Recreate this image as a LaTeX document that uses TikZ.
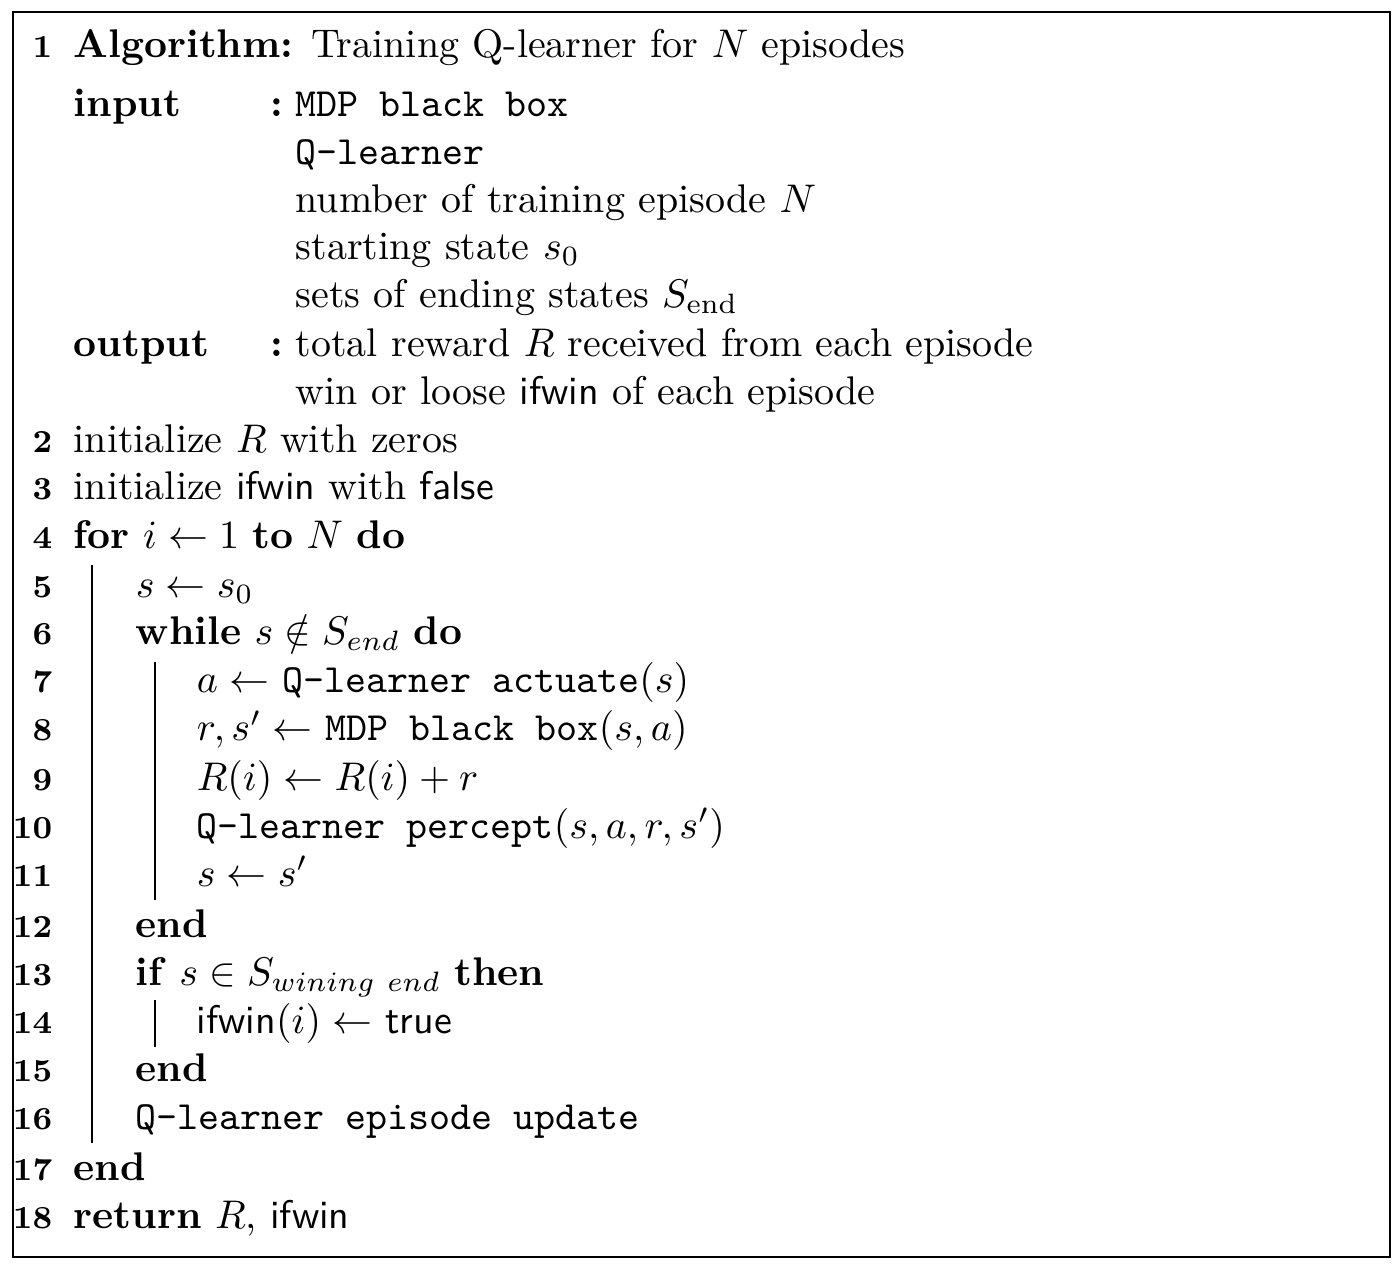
\documentclass[tikz,border=0pt]{standalone}
\usepackage{amsmath,amssymb}
\begin{document}
\begin{tikzpicture}[x=0.25pt,y=-0.25pt,
  ln/.style={anchor=base east,font=\footnotesize\bfseries,inner sep=0pt},
  tx/.style={anchor=base west,inner sep=0pt},
  bar/.style={line width=0.3pt}]
\useasboundingbox (0,0) rectangle (1400,1270);
\draw[line width=0.4pt] (13,12) rectangle (1390,1257);
\def\ttq{\texttt{Q-learner}}
% line numbers
\foreach \n/\y in {1/58,2/453,3/500,4/549,5/598,6/645,7/693,8/741,9/790,10/838,11/886,12/937,13/985,14/1033,15/1081,16/1129,17/1180,18/1228}
  \node[ln] (n\n) at (53,\y) {\n};
\node[tx] (l1) at (73,58) {\textbf{Algorithm:} Training Q-learner for $N$ episodes};
\node[tx] (inp) at (73,117) {\textbf{input}};
\node[tx] (c1) at (270,117) {\textbf{:}};
\node[tx] (i1) at (295,117) {\texttt{MDP black box}};
\node[tx] (i2) at (295,165) {\ttq};
\node[tx] (i3) at (295,213) {number of training episode $N$};
\node[tx] (i4) at (295,260) {starting state $s_0$};
\node[tx] (i5) at (295,308) {sets of ending states $S_{\text{end}}$};
\node[tx] (out) at (73,357) {\textbf{output}};
\node[tx] (c2) at (270,357) {\textbf{:}};
\node[tx] (o1) at (295,357) {total reward $R$ received from each episode};
\node[tx] (o2) at (295,405) {win or loose \textsf{ifwin} of each episode};
\node[tx] (l2) at (73,453) {initialize $R$ with zeros};
\node[tx] (l3) at (73,500) {initialize \textsf{ifwin} with \textsf{false}};
\node[tx] (l4) at (73,549) {\textbf{for} $i\leftarrow 1$ \textbf{to} $N$ \textbf{do}};
\node[tx] (l5) at (135,598) {$s\leftarrow s_0$};
\node[tx] (l6) at (135,645) {\textbf{while} $s\notin S_{end}$ \textbf{do}};
\node[tx] (l7) at (196,693) {$a\leftarrow$ \texttt{Q-learner actuate}$(s)$};
\node[tx] (l8) at (196,741) {$r,s'\leftarrow$ \texttt{MDP black box}$(s,a)$};
\node[tx] (l9) at (196,790) {$R(i)\leftarrow R(i)+r$};
\node[tx] (l10) at (196,838) {\texttt{Q-learner percept}$(s,a,r,s')$};
\node[tx] (l11) at (196,886) {$s\leftarrow s'$};
\node[tx] (l12) at (135,937) {\textbf{end}};
\node[tx] (l13) at (135,985) {\textbf{if} $s\in S_{wining\ end}$ \textbf{then}};
\node[tx] (l14) at (196,1033) {\textsf{ifwin}$(i)\leftarrow$ \textsf{true}};
\node[tx] (l15) at (135,1081) {\textbf{end}};
\node[tx] (l16) at (135,1129) {\texttt{Q-learner episode update}};
\node[tx] (l17) at (73,1180) {\textbf{end}};
\node[tx] (l18) at (73,1228) {\textbf{return} $R$, \textsf{ifwin}};
\draw[bar] (92,565) -- (92,1143);
\draw[bar] (155,662) -- (155,900);
\draw[bar] (155,1000) -- (155,1047);
\end{tikzpicture}
\end{document}
